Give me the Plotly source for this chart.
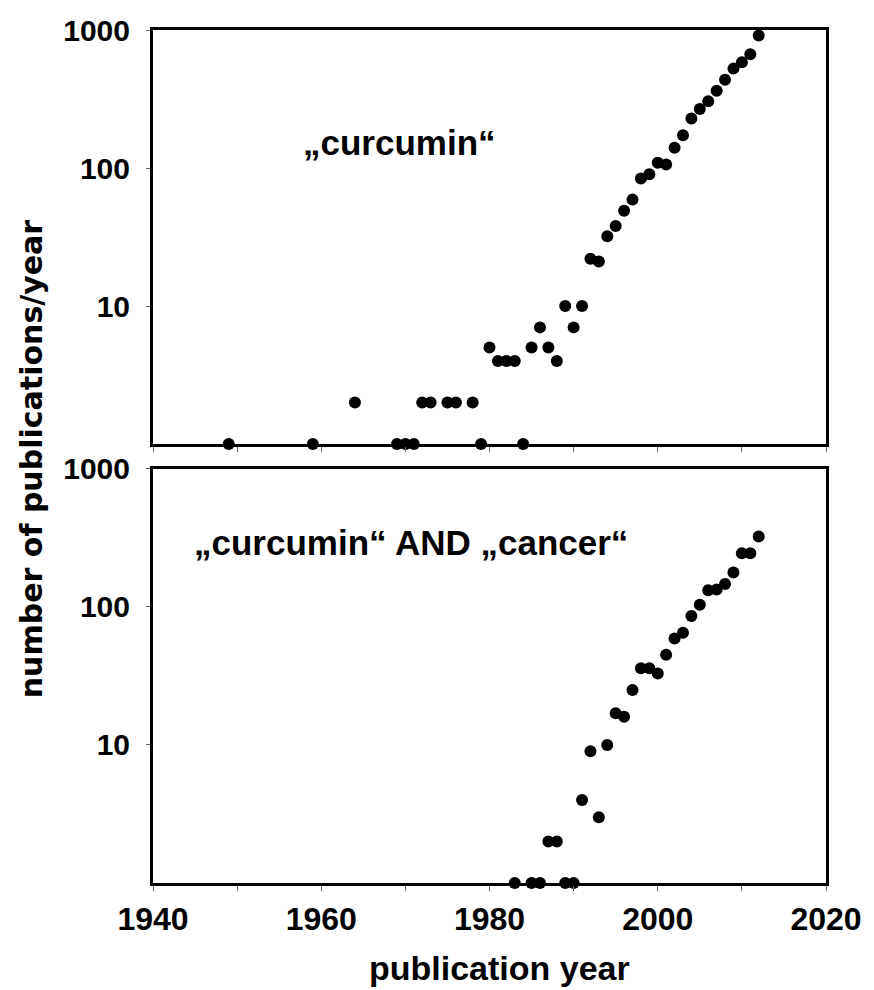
import plotly.graph_objects as go
from plotly.subplots import make_subplots

# Top panel: "curcumin"
years_all = [1949, 1959, 1964, 1969, 1970, 1971, 1972, 1973, 1975, 1976, 1978, 1979,
             1980, 1981, 1982, 1983, 1984, 1985, 1986, 1987, 1988, 1989, 1990, 1991,
             1992, 1993, 1994, 1995, 1996, 1997, 1998, 1999, 2000, 2001, 2002, 2003,
             2004, 2005, 2006, 2007, 2008, 2009, 2010, 2011, 2012]
pubs_all = [1, 1, 2, 1, 1, 1, 2, 2, 2, 2, 2, 1,
            5, 4, 4, 4, 1, 5, 7, 5, 4, 10, 7, 10,
            22, 21, 32, 38, 49, 59, 84, 90, 109, 106, 140, 173,
            228, 268, 304, 363, 436, 525, 584, 667, 914]

# Bottom panel: "curcumin" AND "cancer"
years_cancer = [1983, 1985, 1986, 1987, 1988, 1989, 1990, 1991, 1992, 1993, 1994,
                1995, 1996, 1997, 1998, 1999, 2000, 2001, 2002, 2003, 2004, 2005,
                2006, 2007, 2008, 2009, 2010, 2011, 2012]
pubs_cancer = [1, 1, 1, 2, 2, 1, 1, 4, 9, 3, 10,
               17, 16, 25, 36, 36, 33, 45, 59, 65, 86, 104,
               132, 134, 147, 178, 245, 245, 324]

x_tickvals = [1940, 1950, 1960, 1970, 1980, 1990, 2000, 2010, 2020]
x_ticktext = ["1940", "", "1960", "", "1980", "", "2000", "", "2020"]
y_tickvals = [10, 100, 1000]
y_ticktext = ["10", "100", "1000"]

FONT = "Liberation Sans, Arial, sans-serif"

fig = make_subplots(rows=2, cols=1, vertical_spacing=0.0293)

marker = dict(color="black", size=12)
fig.add_trace(go.Scatter(x=years_all, y=pubs_all, mode="markers", marker=marker,
                         cliponaxis=False, showlegend=False), row=1, col=1)
fig.add_trace(go.Scatter(x=years_cancer, y=pubs_cancer, mode="markers", marker=marker,
                         cliponaxis=False, showlegend=False), row=2, col=1)

xaxis_common = dict(range=[1940, 2020], tickvals=x_tickvals, showline=True, linecolor="black",
                    linewidth=3, mirror=True, ticks="outside", ticklen=5, tickwidth=1,
                    tickcolor="#666", showgrid=False, zeroline=False,
                    ticklabeloverflow="allow",
                    tickfont=dict(family=FONT, size=32, color="black", weight="bold"))
yaxis_common = dict(type="log", range=[0, 3], tickvals=y_tickvals, ticktext=y_ticktext,
                    showline=True, linecolor="black", linewidth=3, mirror=True,
                    ticks="outside", ticklen=4, tickwidth=1, tickcolor="#666",
                    showgrid=False, zeroline=False, ticklabelstandoff=10,
                    tickfont=dict(family=FONT, size=30, color="black", weight="bold"))

fig.update_xaxes(**xaxis_common, ticktext=[""] * len(x_tickvals), row=1, col=1)
fig.update_xaxes(**xaxis_common, ticktext=x_ticktext, ticklabelstandoff=1, row=2, col=1)
fig.update_yaxes(**yaxis_common, row=1, col=1)
fig.update_yaxes(**yaxis_common, row=2, col=1)

# width left to autosize so the figure fills the window width exactly
fig.update_layout(
    autosize=True, height=990,
    margin=dict(l=153, r=37, t=30, b=107),
    plot_bgcolor="white", paper_bgcolor="white",
    annotations=[
        dict(text="\u201ecurcumin\u201c", x=0.367, y=0.868, xref="paper", yref="paper",
             xanchor="center", yanchor="middle", showarrow=False,
             font=dict(family=FONT, size=35, color="black", weight="bold")),
        dict(text="\u201ecurcumin\u201c AND \u201ecancer\u201c", x=0.383, y=0.3986,
             xref="paper", yref="paper", xanchor="center", yanchor="middle", showarrow=False,
             font=dict(family=FONT, size=35, color="black", weight="bold")),
        dict(text="number of publications/year", x=-0.181, y=0.497, xref="paper", yref="paper",
             xanchor="center", yanchor="middle", textangle=-90, showarrow=False,
             font=dict(family="DejaVu Sans, sans-serif", size=30, color="black", weight="bold")),
        dict(text="publication year", x=0.515, y=-0.0996, xref="paper", yref="paper",
             xanchor="center", yanchor="middle", showarrow=False,
             font=dict(family=FONT, size=34, color="black", weight="bold")),
    ],
)

fig.write_html(
    "out.html",
    config={"displayModeBar": False, "responsive": True},
    default_width="100%", default_height="990px",
    post_script="document.body.style.margin='0';document.body.style.overflow='hidden';"
                "document.documentElement.style.overflow='hidden';"
                "Plotly.Plots.resize(document.getElementById('{plot_id}'));",
)
